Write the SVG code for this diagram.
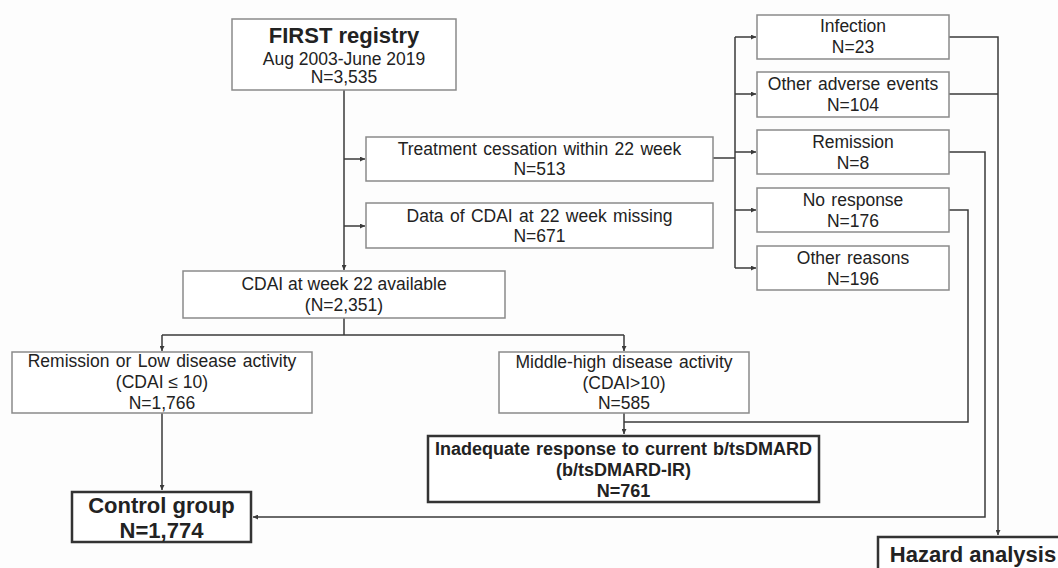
<svg xmlns="http://www.w3.org/2000/svg" width="1058" height="568" viewBox="0 0 1058 568">
  <style>
    .box { fill: #ffffff; stroke: #8a8a8a; stroke-width: 1.5; }
    .bold-box { fill: #ffffff; stroke: #333333; stroke-width: 2.5; }
    .t { font-family: "Liberation Sans", Arial, sans-serif; font-size: 17.5px; fill: #222222; text-anchor: middle; }
    .tb { font-family: "Liberation Sans", Arial, sans-serif; font-weight: bold; fill: #222222; text-anchor: middle; }
    .c { fill: none; stroke: #3a3a3a; stroke-width: 1.5; }
  </style>
  <defs>
    <marker id="arr" viewBox="0 0 6 6" refX="6" refY="3" markerWidth="5" markerHeight="5" markerUnits="userSpaceOnUse" orient="auto">
      <path d="M0,0 L6,3 L0,6 z" fill="#3a3a3a"/>
    </marker>
  </defs>
  <rect x="0" y="0" width="1058" height="568" fill="#fdfdfd"/>

  <g id="connectors">
    <line class="c" x1="344" y1="90" x2="344" y2="270" marker-end="url(#arr)"/>
    <line class="c" x1="344" y1="159" x2="365" y2="159" marker-end="url(#arr)"/>
    <line class="c" x1="344" y1="226" x2="365" y2="226" marker-end="url(#arr)"/>
    <line class="c" x1="713" y1="158" x2="735" y2="158"/>
    <line class="c" x1="735" y1="37" x2="735" y2="268"/>
    <line class="c" x1="735" y1="37" x2="756" y2="37" marker-end="url(#arr)"/>
    <line class="c" x1="735" y1="94" x2="756" y2="94" marker-end="url(#arr)"/>
    <line class="c" x1="735" y1="152" x2="756" y2="152" marker-end="url(#arr)"/>
    <line class="c" x1="735" y1="210" x2="756" y2="210" marker-end="url(#arr)"/>
    <line class="c" x1="735" y1="268" x2="756" y2="268" marker-end="url(#arr)"/>
    <polyline class="c" points="949,37 998,37 998,535" marker-end="url(#arr)"/>
    <line class="c" x1="949" y1="94" x2="998" y2="94"/>
    <polyline class="c" points="949,152 985,152 985,517 253,517" marker-end="url(#arr)"/>
    <polyline class="c" points="949,210 968,210 968,422 624,422"/>
    <line class="c" x1="344" y1="318" x2="344" y2="335"/>
    <line class="c" x1="162" y1="335" x2="624" y2="335"/>
    <line class="c" x1="162" y1="335" x2="162" y2="351" marker-end="url(#arr)"/>
    <line class="c" x1="624" y1="335" x2="624" y2="351" marker-end="url(#arr)"/>
    <line class="c" x1="162" y1="413" x2="162" y2="490" marker-end="url(#arr)"/>
    <line class="c" x1="624" y1="413" x2="624" y2="434" marker-end="url(#arr)"/>
  </g>

  <g id="first-registry">
    <rect class="box" x="232" y="19" width="224" height="71"/>
    <text class="tb" x="344" y="43" font-size="22">FIRST registry</text>
    <text class="t" x="344" y="65">Aug 2003-June 2019</text>
    <text class="t" x="344" y="83">N=3,535</text>
  </g>

  <g id="treatment-cessation">
    <rect class="box" x="366" y="137" width="347" height="44"/>
    <text class="t" x="539.5" y="155" word-spacing="1.5">Treatment cessation within 22 week</text>
    <text class="t" x="539.5" y="175">N=513</text>
  </g>

  <g id="cdai-missing">
    <rect class="box" x="366" y="203" width="347" height="45"/>
    <text class="t" x="539.5" y="222" word-spacing="1.5">Data of CDAI at 22 week missing</text>
    <text class="t" x="539.5" y="242">N=671</text>
  </g>

  <g id="infection">
    <rect class="box" x="757" y="15" width="192" height="44"/>
    <text class="t" x="853" y="32">Infection</text>
    <text class="t" x="853" y="53">N=23</text>
  </g>

  <g id="other-adverse">
    <rect class="box" x="757" y="72" width="192" height="45"/>
    <text class="t" x="853" y="90" word-spacing="1.5">Other adverse events</text>
    <text class="t" x="853" y="111">N=104</text>
  </g>

  <g id="remission-stop">
    <rect class="box" x="757" y="130" width="192" height="44"/>
    <text class="t" x="853" y="148">Remission</text>
    <text class="t" x="853" y="169">N=8</text>
  </g>

  <g id="no-response">
    <rect class="box" x="757" y="188" width="192" height="44"/>
    <text class="t" x="853" y="206" word-spacing="1.5">No response</text>
    <text class="t" x="853" y="227">N=176</text>
  </g>

  <g id="other-reasons">
    <rect class="box" x="757" y="246" width="192" height="44"/>
    <text class="t" x="853" y="264" word-spacing="1.5">Other reasons</text>
    <text class="t" x="853" y="285">N=196</text>
  </g>

  <g id="cdai-available">
    <rect class="box" x="183" y="271" width="322" height="47"/>
    <text class="t" x="344" y="290">CDAI at week 22 available</text>
    <text class="t" x="344" y="311">(N=2,351)</text>
  </g>

  <g id="low-activity">
    <rect class="box" x="12" y="352" width="300" height="61"/>
    <text class="t" x="162" y="367" word-spacing="1.5">Remission or Low disease activity</text>
    <text class="t" x="162" y="388">(CDAI ≤ 10)</text>
    <text class="t" x="162" y="409">N=1,766</text>
  </g>

  <g id="high-activity">
    <rect class="box" x="499" y="352" width="250" height="61"/>
    <text class="t" x="624" y="368" word-spacing="1.5">Middle-high disease activity</text>
    <text class="t" x="624" y="389">(CDAI&gt;10)</text>
    <text class="t" x="624" y="409">N=585</text>
  </g>

  <g id="inadequate-response">
    <rect class="bold-box" x="428" y="436" width="391" height="66"/>
    <text class="tb" x="623.5" y="455" font-size="18" word-spacing="1">Inadequate response to current b/tsDMARD</text>
    <text class="tb" x="623.5" y="476" font-size="18">(b/tsDMARD-IR)</text>
    <text class="tb" x="623.5" y="497" font-size="18">N=761</text>
  </g>

  <g id="control-group">
    <rect class="bold-box" x="72" y="492" width="179" height="50"/>
    <text class="tb" x="161.5" y="513" font-size="22">Control group</text>
    <text class="tb" x="161.5" y="538" font-size="22">N=1,774</text>
  </g>

  <g id="hazard-analysis">
    <rect class="bold-box" x="878" y="537" width="190" height="50"/>
    <text class="tb" x="973" y="562" font-size="22">Hazard analysis</text>
  </g>
</svg>
